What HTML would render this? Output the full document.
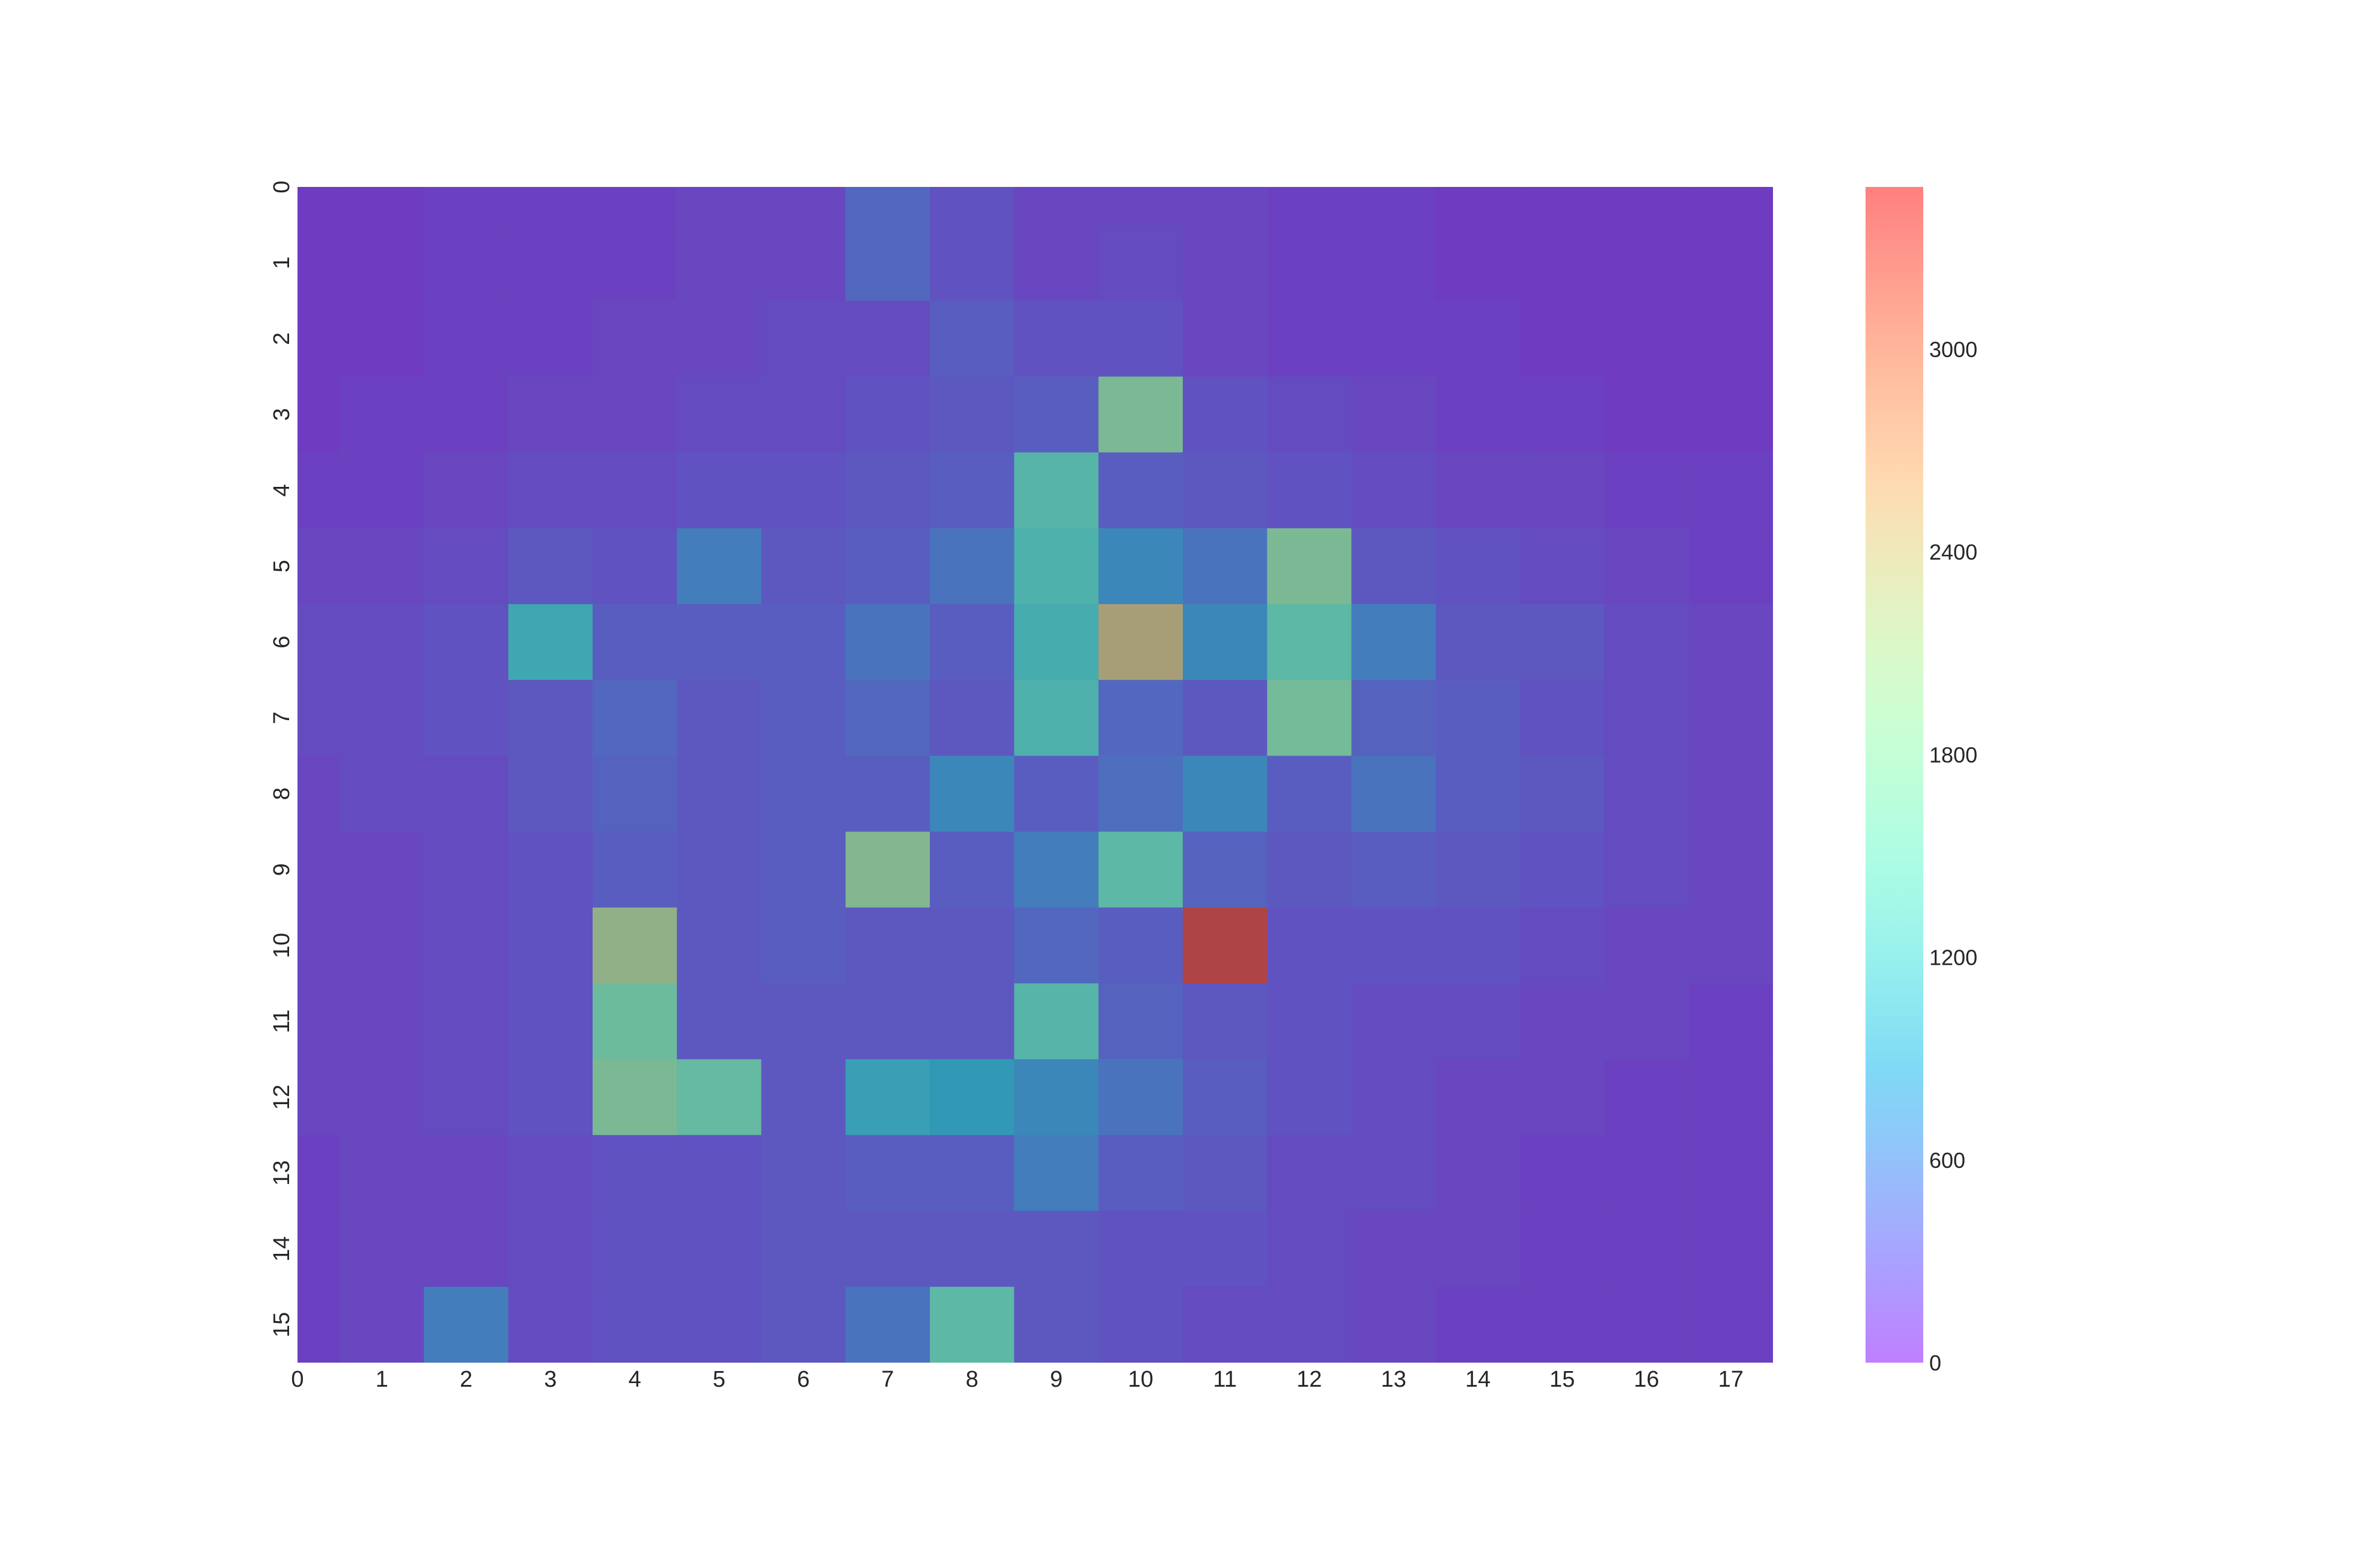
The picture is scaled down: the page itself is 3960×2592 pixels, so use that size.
<!DOCTYPE html>
<html><head><meta charset="utf-8"><style>
html,body{margin:0;padding:0;background:#fff}
svg{display:block;font-family:"Liberation Sans",Arial,sans-serif}
</style></head><body>
<svg id="chart" width="3960" height="2592" viewBox="0 0 3960 2592" xmlns="http://www.w3.org/2000/svg">
<defs>
<linearGradient id="cbar" x1="0" y1="1" x2="0" y2="0"></linearGradient>
</defs>
<rect x="495" y="311" width="2455" height="1956" fill="rgb(95,118,130)"/>
<g id="cells"></g>
<g id="axes"></g>
<g id="cb"></g>
</svg>
<script>
const rowLabels=[0,1,2,3,4,5,6,7,8,9,10,11,12,13,14,15];
const colLabels=[0,1,2,3,4,5,6,7,8,9,10,11,12,13,14,15,16,17];
const colorbarTicks=[0,600,1200,1800,2400,3000];
const vmax=3480;
const row0 =[0,0,50,50,50,100,100,400,200,100,100,100,50,50,0,0,0,0];
const row1 =[0,0,50,50,50,100,100,400,200,100,150,100,50,50,0,0,0,0];
const row2 =[0,0,50,50,100,100,150,150,300,200,200,100,50,50,50,0,0,0];
const row3 =[0,50,50,100,100,150,150,200,250,300,1900,200,150,100,50,50,0,0];
const row4 =[50,50,100,150,150,200,200,250,300,1400,300,250,200,150,100,100,50,50];
const row5 =[100,100,150,250,200,600,250,300,500,1300,700,500,1900,250,200,150,100,50];
const row6 =[150,150,200,1100,300,300,300,500,300,1200,2500,700,1500,600,250,250,150,100];
const row7 =[150,150,200,250,400,250,300,400,250,1300,400,250,1800,350,300,200,150,100];
const row8 =[100,150,150,250,350,250,300,300,700,300,450,700,300,500,300,250,150,100];
const row9 =[100,100,150,200,300,250,300,2000,300,600,1500,350,250,300,250,200,150,100];
const row10=[100,100,150,200,2200,250,300,250,250,400,300,3400,200,200,200,150,100,100];
const row11=[100,100,150,200,1700,250,250,250,250,1400,350,250,200,150,150,100,100,50];
const row12=[100,100,150,200,1900,1600,250,1000,900,700,500,300,200,150,100,100,50,50];
const row13=[50,100,100,150,200,200,250,300,300,600,300,250,150,150,100,50,50,50];
const row14=[50,100,100,150,200,200,250,250,250,250,200,200,150,100,100,50,50,50];
const row15=[50,100,600,150,200,200,250,500,1500,250,200,150,150,100,50,50,50,50];
const values=[row0,row1,row2,row3,row4,row5,row6,row7,row8,row9,row10,row11,row12,row13,row14,row15];

const NS="http://www.w3.org/2000/svg";
const L=495,R=2950,T=311,B=2267;
const xs=v=>L+(v)*(R-L)/17.5;
const ys=v=>T+(v)*(B-T)/15.5;
function rainbow(t){t=Math.max(0,Math.min(1,t));
 const r=Math.min(1,Math.abs(2*t-0.5)),g=Math.sin(Math.PI*t),b=Math.abs(Math.cos(Math.PI*t/2));
 return `rgb(${Math.round(r*255)},${Math.round(g*255)},${Math.round(b*255)})`;}
function mk(tag,attrs,parent){const e=document.createElementNS(NS,tag);for(const k in attrs)e.setAttribute(k,attrs[k]);parent.appendChild(e);return e;}
const cells=document.getElementById('cells');
values.forEach((row,i)=>row.forEach((v,j)=>{
 const x0=Math.max(0,j-0.5),x1=Math.min(17.5,j+0.5),y0=Math.max(0,i-0.5),y1=Math.min(15.5,i+0.5);
 const c=mk('rect',{x:xs(x0),y:ys(y0),width:xs(x1)-xs(x0),height:ys(y1)-ys(y0),fill:rainbow(v/vmax),'fill-opacity':0.5},cells);
 
 
}));
const axes=document.getElementById('axes');
colLabels.forEach(c=>{
 const t=mk('text',{x:xs(c),y:2307,'font-size':38,fill:'#262626','text-anchor':'middle'},axes);
 t.textContent=c;
 
 
});
rowLabels.forEach(r=>{
 const y=ys(r);
 const t=mk('text',{x:481,y:y,'font-size':38,fill:'#262626','text-anchor':'middle',transform:`rotate(-90 481 ${y})`},axes);
 t.textContent=r;
 
 
});
const cb=document.getElementById('cb');
const cbT=311,cbB=2267,cbL=3104,cbW=96;
const grad=document.getElementById('cbar');
for(let k=0;k<=20;k++){mk('stop',{offset:(k/20),'stop-color':rainbow(k/20),'stop-opacity':0.5},grad);}
const cr=mk('rect',{x:cbL,y:cbT,width:cbW,height:cbB-cbT,fill:'url(#cbar)'},cb);


colorbarTicks.forEach(v=>{
 const y=cbB-(v/vmax)*(cbB-cbT);
 const t=mk('text',{x:3210,y:y+13,'font-size':36,fill:'#262626'},cb);
 t.textContent=v;
 
 
});
</script>
</body></html>
